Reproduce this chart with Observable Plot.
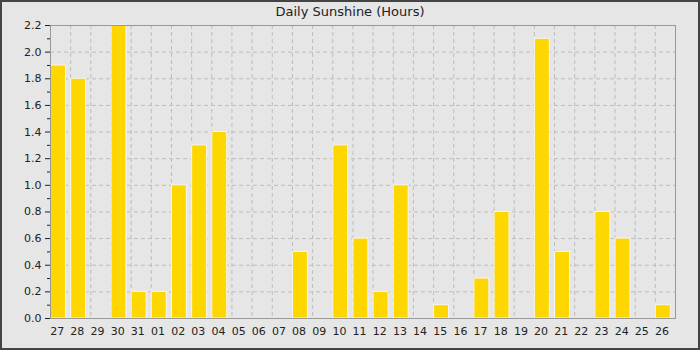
<!DOCTYPE html>
<html>
<head>
<meta charset="utf-8">
<script src="https://cdn.jsdelivr.net/npm/d3@7"></script>
<script src="https://cdn.jsdelivr.net/npm/@observablehq/plot@0.6"></script>
<style>
  html, body { margin: 0; padding: 0; background: #ffffff; }
  #wrap { position: relative; width: 700px; height: 350px; background: #e6e6e6; overflow: hidden; font-family: "DejaVu Sans", sans-serif; }
  #title { position: absolute; left: 0; top: 3px; width: 700px; text-align: center; font-size: 13px; line-height: 18px; color: #222; }
  #chart { position: absolute; left: 0; top: 22px; }
  #border { position: absolute; left: 0; top: 0; width: 700px; height: 350px; box-sizing: border-box; border: 2px solid #444; pointer-events: none; }
</style>
</head>
<body>
<div id="wrap">
  <div id="title">Daily Sunshine (Hours)</div>
  <div id="chart"></div>
  <div id="border"></div>
</div>
<script>
const days = ["27","28","29","30","31","01","02","03","04","05","06","07","08","09","10","11","12","13","14","15","16","17","18","19","20","21","22","23","24","25","26"];
const hours = [1.9,1.8,0,2.2,0.2,0.2,1.0,1.3,1.4,0,0,0,0.5,0,1.3,0.6,0.2,1.0,0,0.1,0,0.3,0.8,0,2.1,0.5,0,0.8,0.6,0,0.1];
const yTicks = [0,0.2,0.4,0.6,0.8,1.0,1.2,1.4,1.6,1.8,2.0,2.2];
const yMinor = [0.1,0.3,0.5,0.7,0.9,1.1,1.3,1.5,1.7,1.9,2.1];

const data = days.map((d, i) => ({day: d, hours: hours[i]}));
const width = 700, height = 328;
const mL = 50, mR = 25;
const bw = (width - mL - mR) / days.length;

const chart = Plot.plot({
  width, height,
  marginLeft: mL, marginRight: mR, marginTop: 3, marginBottom: 32,
  style: {background: "transparent", fontFamily: "DejaVu Sans, sans-serif", fontSize: "11px", color: "#222", overflow: "visible"},
  x: {type: "band", domain: days, padding: 0, round: false},
  y: {domain: [0, 2.2]},
  marks: [
    Plot.ruleY(yTicks.slice(1, -1), {stroke: "#bdbdbd", strokeDasharray: "4,3"}),
    Plot.ruleX(days.slice(0, -1), {dx: bw / 2, stroke: "#bdbdbd", strokeDasharray: "4,3"}),
    Plot.barY(data.filter(d => d.hours > 0), {x: "day", y: "hours", fill: "#FFD700", stroke: "#f6f6f6", strokeWidth: 1, insetLeft: 0.5, insetRight: 4.7}),
    Plot.frame({stroke: "#999"}),
    Plot.axisY({ticks: yTicks, tickFormat: d => d.toFixed(1), tickSize: 5, tickPadding: 4, label: null, stroke: "#222"}),
    Plot.axisY({ticks: yMinor, tickFormat: () => "", tickSize: 3, label: null, stroke: "#222"}),
    Plot.axisX({tickSize: 0, tickPadding: 9, dx: -3.4, label: null})
  ]
});
document.getElementById("chart").appendChild(chart);
</script>
</body>
</html>
